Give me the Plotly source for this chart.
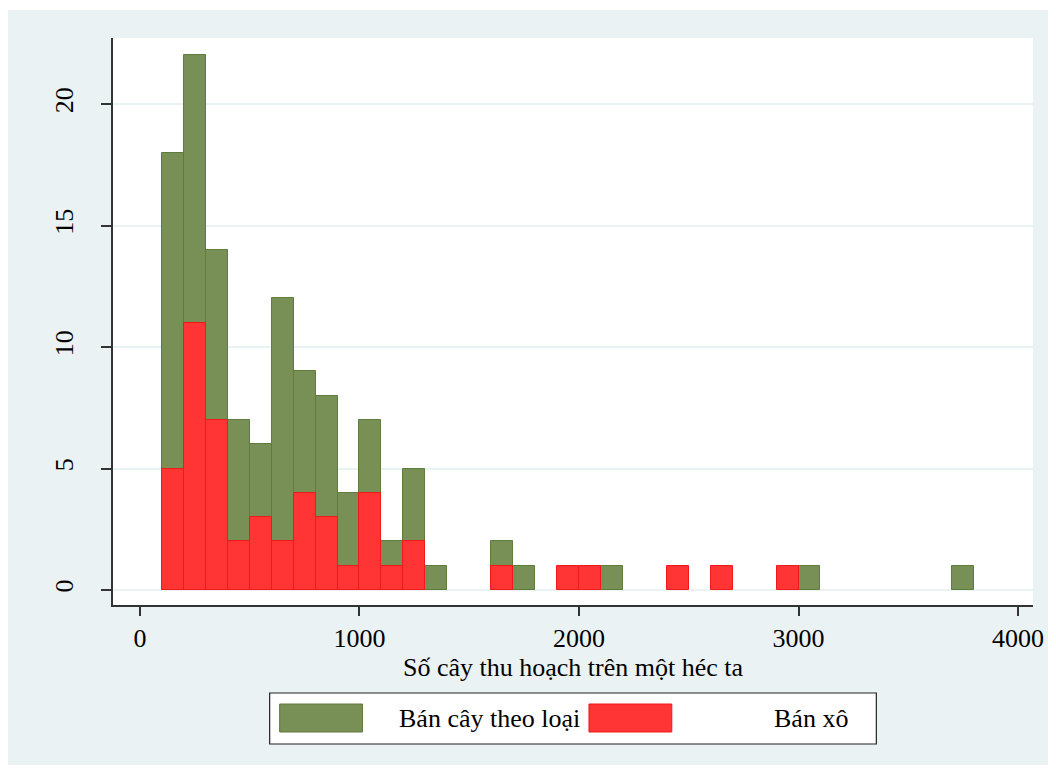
import plotly.graph_objects as go

# Histogram bins (left edges, width 100) and counts
bin_width = 100
green_bins = [100, 200, 300, 400, 500, 600, 700, 800, 900, 1000, 1100, 1200, 1300, 1600, 1700, 2100, 3000, 3700]
green_counts = [18, 22, 14, 7, 6, 12, 9, 8, 4, 7, 2, 5, 1, 2, 1, 1, 1, 1]
red_bins = [100, 200, 300, 400, 500, 600, 700, 800, 900, 1000, 1100, 1200, 1600, 1900, 2000, 2400, 2600, 2900]
red_counts = [5, 11, 7, 2, 3, 2, 4, 3, 1, 4, 1, 2, 1, 1, 1, 1, 1, 1]

green_name = "Bán cây theo loại"
red_name = "Bán xô"
x_title = "Số cây thu hoạch trên một héc ta"
x_ticks = [0, 1000, 2000, 3000, 4000]
y_ticks = [0, 5, 10, 15, 20]

GREEN = "#788F55"
GREEN_LINE = "#5E7C3C"
RED = "#FF3434"
RED_LINE = "#F01A1A"
BG = "#EAF2F3"
FONT = "Liberation Serif"
FS = 26

fig = go.Figure()
fig.add_trace(go.Bar(
    x=[b + bin_width / 2 for b in green_bins], y=green_counts, width=bin_width,
    name=green_name, marker=dict(color=GREEN, line=dict(color=GREEN_LINE, width=1)),
    showlegend=False,
))
fig.add_trace(go.Bar(
    x=[b + bin_width / 2 for b in red_bins], y=red_counts, width=bin_width,
    name=red_name, marker=dict(color=RED, line=dict(color=RED_LINE, width=1)),
    showlegend=False,
))

OFF = 8  # page body margin
W, H = 1056 - OFF, 773 - OFF
ml, mr, mt, mb = 113 - OFF, 21, 38 - OFF, 168
pw, ph = W - ml - mr, H - mt - mb

def px(p):
    return (p - OFF - ml) / pw

def py(q):
    return (H - mb - (q - OFF)) / ph

shapes = [
    dict(type="rect", xref="paper", yref="paper", x0=px(7), x1=px(1050), y0=py(765), y1=py(10),
         fillcolor=BG, line=dict(width=0), layer="below"),
    dict(type="rect", xref="paper", yref="paper", x0=0, x1=1, y0=0, y1=1,
         fillcolor="white", line=dict(width=0), layer="below"),
    # legend box
    dict(type="rect", xref="paper", yref="paper", x0=px(270), x1=px(878), y0=py(744), y1=py(693),
         fillcolor="white", line=dict(color="#222", width=1.2)),
    dict(type="rect", xref="paper", yref="paper", x0=px(280), x1=px(363), y0=py(732), y1=py(704),
         fillcolor=GREEN, line=dict(color=GREEN_LINE, width=1)),
    dict(type="rect", xref="paper", yref="paper", x0=px(590), x1=px(673), y0=py(732), y1=py(704),
         fillcolor=RED, line=dict(color=RED_LINE, width=1)),
]
annotations = [
    dict(xref="paper", yref="paper", x=px(398), y=py(719), text=green_name, showarrow=False,
         xanchor="left", yanchor="middle", font=dict(family=FONT, size=FS, color="black")),
    dict(xref="paper", yref="paper", x=px(773), y=py(719), text=red_name, showarrow=False,
         xanchor="left", yanchor="middle", font=dict(family=FONT, size=FS, color="black")),
]

fig.update_layout(
    width=W, height=H,
    margin=dict(l=ml, r=mr, t=mt, b=mb, pad=0),
    paper_bgcolor="white", plot_bgcolor="white",
    barmode="overlay", bargap=0,
    font=dict(family=FONT, size=FS, color="black"),
    shapes=shapes, annotations=annotations,
    showlegend=False,
)
fig.update_xaxes(
    range=[-122.7, 4068.2], tickmode="array", tickvals=x_ticks,
    ticks="outside", ticklen=9, tickwidth=1.5, tickcolor="#333",
    showline=True, linecolor="#333", linewidth=1.5, showgrid=False, zeroline=False,
    title=dict(text=x_title, standoff=4, font=dict(family=FONT, size=FS)),
    tickfont=dict(family=FONT, size=FS),
)
fig.update_yaxes(
    range=[-0.617, 22.72], tickmode="array", tickvals=y_ticks, tickangle=-90,
    ticks="outside", ticklen=10, tickwidth=1.5, tickcolor="#333",
    showline=True, linecolor="#333", linewidth=1.5,
    showgrid=True, gridcolor=BG, gridwidth=2, zeroline=False,
    tickfont=dict(family=FONT, size=FS), ticklabelstandoff=18,
)

fig.write_html("out.html")
